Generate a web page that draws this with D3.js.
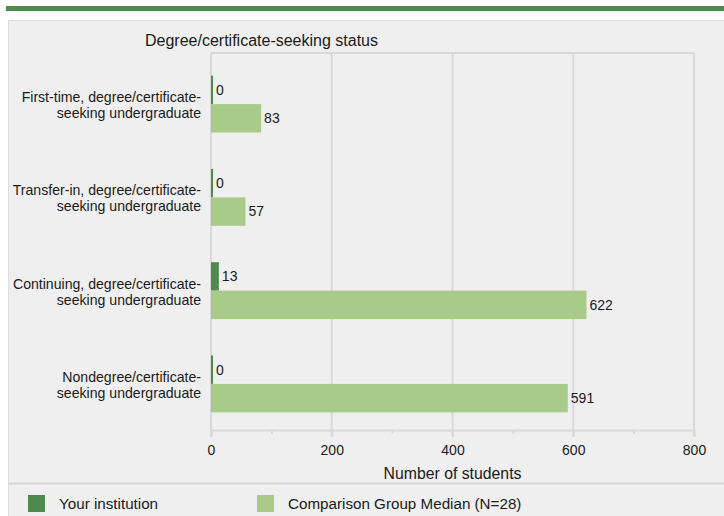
<!DOCTYPE html>
<html lang="en">
<head>
<meta charset="utf-8">
<title>Degree/certificate-seeking status</title>
<style>
  body { margin:0; background:#fff; }
  svg text { font-family: "Liberation Sans", Arial, sans-serif; fill:#1a1a1a; }
</style>
</head>
<body>
<svg class="chart" width="724" height="516"></svg>
<script src="https://cdnjs.cloudflare.com/ajax/libs/d3/7.8.5/d3.min.js"></script>
<script>
// data
var categories = [
  ["First-time, degree/certificate-", "seeking undergraduate"],
  ["Transfer-in, degree/certificate-", "seeking undergraduate"],
  ["Continuing, degree/certificate-", "seeking undergraduate"],
  ["Nondegree/certificate-", "seeking undergraduate"]
];
var yourInstitution = [0, 0, 13, 0];
var comparisonMedian = [83, 57, 622, 591];
var xTicks = [0, 200, 400, 600, 800];
var seriesNames = ["Your institution", "Comparison Group Median (N=28)"];

var dark = "#4f8a4f", light = "#a9cb8a", grid = "#d9d9d9";

var svg = d3.select(".chart");

// top green rule + grey panel
svg.append("rect").attr("x", 6).attr("y", 6).attr("width", 718).attr("height", 5).attr("fill", "#4e8a49");
svg.append("rect").attr("x", 8.5).attr("y", 20.5).attr("width", 720).attr("height", 500)
  .attr("fill", "#efefef").attr("stroke", "#dcdcdc");
svg.append("line").attr("x1", 8).attr("x2", 724).attr("y1", 483.5).attr("y2", 483.5)
  .attr("stroke", "#d6d6d6").attr("stroke-width", 2);

var plot = { left:211, right:694, top:53, bottom:430 };

var x = d3.scaleLinear().domain([0, 800]).range([plot.left, plot.right]);
var y = d3.scaleBand().domain(d3.range(categories.length))
  .range([plot.top + 4, plot.bottom + 1]).paddingInner(0.39).paddingOuter(0.2);

// title
svg.append("text").attr("x", 145).attr("y", 46).attr("font-size", 16)
  .text("Degree/certificate-seeking status");

// frame + grid
svg.append("line").attr("x1", plot.left).attr("x2", plot.right).attr("y1", plot.top).attr("y2", plot.top)
  .attr("stroke", grid).attr("stroke-width", 2);
svg.selectAll(".grid").data(xTicks).enter().append("line")
  .attr("class", "grid")
  .attr("x1", function(d){ return x(d); }).attr("x2", function(d){ return x(d); })
  .attr("y1", plot.top).attr("y2", plot.bottom + 7)
  .attr("stroke", grid).attr("stroke-width", 2);

// x axis
var xAxis = d3.axisBottom(x).tickValues(xTicks).tickSize(7).tickPadding(8);
var ax = svg.append("g").attr("transform", "translate(0," + plot.bottom + ")").call(xAxis);
ax.select(".domain").attr("stroke", grid).attr("stroke-width", 2);
ax.selectAll(".tick line").attr("stroke", grid).attr("stroke-width", 2);
ax.selectAll("text").attr("font-size", 14).attr("fill", "#1a1a1a")
  .attr("font-family", "Liberation Sans, Arial, sans-serif");
var minor = d3.axisBottom(x).tickValues([100, 300, 500, 700]).tickSize(4).tickFormat("");
var mx = svg.append("g").attr("transform", "translate(0," + plot.bottom + ")").call(minor);
mx.select(".domain").remove();
mx.selectAll(".tick line").attr("stroke", grid).attr("stroke-width", 2);

svg.append("text").attr("x", (plot.left + plot.right) / 2).attr("y", 479)
  .attr("text-anchor", "middle").attr("font-size", 15.8).text("Number of students");

// bars
var half = y.bandwidth() / 2;
var groups = svg.selectAll(".grp").data(categories).enter().append("g").attr("class", "grp");

groups.append("rect")
  .attr("x", x(0))
  .attr("y", function(d, i){ return y(i); })
  .attr("width", function(d, i){ return Math.max(x(yourInstitution[i]) - x(0), 2); })
  .attr("height", half)
  .attr("fill", dark);
groups.append("rect")
  .attr("x", x(0))
  .attr("y", function(d, i){ return y(i) + half; })
  .attr("width", function(d, i){ return x(comparisonMedian[i]) - x(0); })
  .attr("height", half)
  .attr("fill", light);

groups.append("text")
  .attr("x", function(d, i){ return Math.max(x(yourInstitution[i]), x(0) + 2) + 3; })
  .attr("y", function(d, i){ return y(i) + half / 2; })
  .attr("dy", "0.35em").attr("font-size", 14)
  .text(function(d, i){ return yourInstitution[i]; });
groups.append("text")
  .attr("x", function(d, i){ return x(comparisonMedian[i]) + 3; })
  .attr("y", function(d, i){ return y(i) + half * 1.5; })
  .attr("dy", "0.35em").attr("font-size", 14)
  .text(function(d, i){ return comparisonMedian[i]; });

// category labels
var lab = groups.append("text")
  .attr("text-anchor", "end").attr("font-size", 14.1)
  .attr("transform", function(d, i){ return "translate(201," + (y(i) + half) + ")"; });
lab.selectAll("tspan").data(function(d){ return d; }).enter().append("tspan")
  .attr("x", 0).attr("y", function(d, j){ return j === 0 ? -2 : 14; })
  .text(function(d){ return d; });

// legend
var legend = svg.selectAll(".leg").data(seriesNames).enter().append("g")
  .attr("transform", function(d, i){ return "translate(" + (i === 0 ? 28 : 257) + ",495)"; });
legend.append("rect").attr("width", 17).attr("height", 17)
  .attr("fill", function(d, i){ return i === 0 ? dark : light; });
legend.append("text").attr("x", 31).attr("y", 9).attr("dy", "0.35em")
  .attr("font-size", 15.2).text(function(d){ return d; });
</script>
</body>
</html>
